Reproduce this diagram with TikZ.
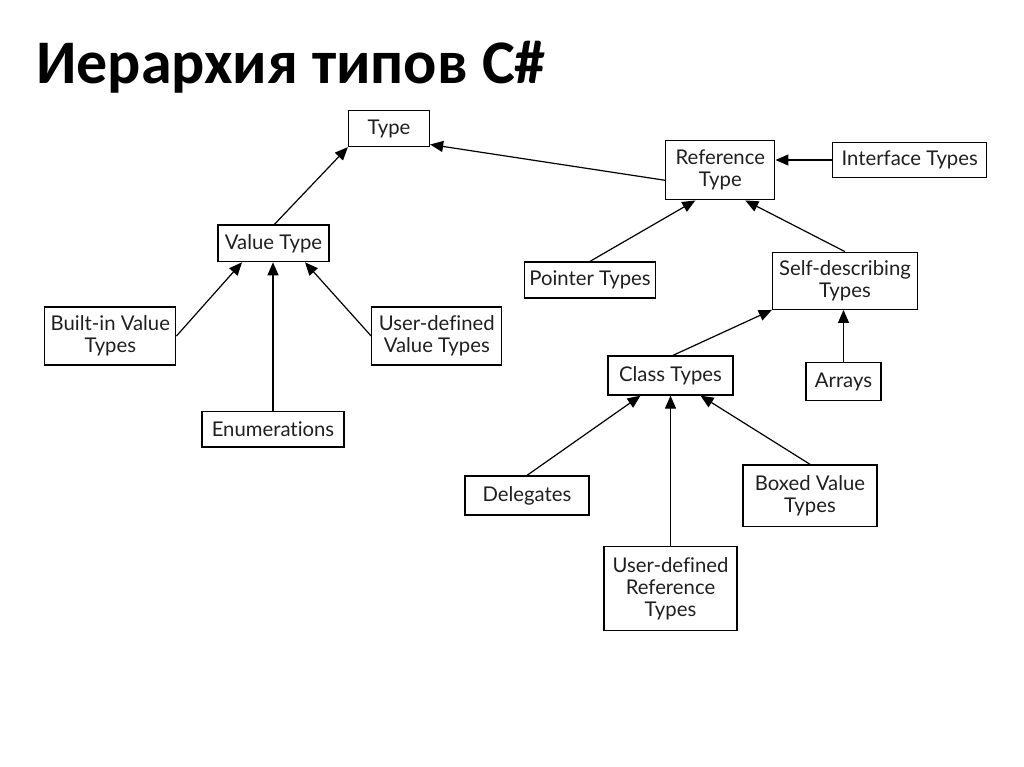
\documentclass[tikz,border=0pt]{standalone}
\usepackage{fontspec}
\setmainfont{Lato}[Ligatures=NoCommon]
\newfontfamily\titlefont{Carlito}
\usetikzlibrary{arrows.meta,calc}
\tikzset{
  box/.style={draw=black, line width=1.3pt, inner sep=0pt, align=center,
    font=\fontsize{20.3}{22}\selectfont, text=black!88},
  conn/.style={line width=1.2pt, -{Triangle[length=13pt,width=11pt]}},
}
\begin{document}
\begin{tikzpicture}[x=1pt,y=-1pt]
\useasboundingbox (0,0) rectangle (1024,767);
\node[anchor=base west, font=\titlefont\bfseries\fontsize{62}{68}\selectfont, inner sep=0pt] (title) at (36,83.5) {Иерархия типов C\#};

\node[box, minimum width=81pt, minimum height=36pt] (type) at (389,128.5) {Type};
\node[box, minimum width=109pt, minimum height=59pt] (ref) at (720.3,170.3) {Reference\\Type};
\node[box, minimum width=154pt, minimum height=35pt] (iface) at (909.7,160) {Interface Types};
\node[box, minimum width=111pt, minimum height=36.7pt] (vt) at (273.5,243.3) {Value Type};
\node[box, minimum width=131pt, minimum height=36pt] (ptr) at (590,280) {Pointer Types};
\node[box, minimum width=145pt, minimum height=57pt] (self) at (845,280.8) {Self-describing\\Types};
\node[box, minimum width=131pt, minimum height=58pt] (builtin) at (110.3,336) {Built-in Value\\Types};
\node[box, minimum width=130pt, minimum height=58pt] (udv) at (436.8,336) {User-defined\\Value Types};
\node[box, minimum width=142pt, minimum height=35.3pt] (enum) at (273,429.3) {Enumerations};
\node[box, minimum width=125pt, minimum height=39pt] (class) at (670.5,375.5) {Class Types};
\node[box, minimum width=75pt, minimum height=38pt] (arrays) at (843.5,381.7) {Arrays};
\node[box, minimum width=124pt, minimum height=39pt] (deleg) at (527,495.5) {Delegates};
\node[box, minimum width=134pt, minimum height=61.7pt] (boxed) at (810,495.8) {Boxed Value\\Types};
\node[box, minimum width=133pt, minimum height=84pt] (udr) at (670.5,588.7) {User-defined\\Reference\\Types};

\draw[conn] ($(vt.north)+(1,0)$) -- (type.south west);
\draw[conn] ($(ref.west)+(0,10)$) -- ($(type.east)+(0,16)$);
\draw[conn] (iface.west) -- (iface.west -| ref.east);
\draw[conn] (ptr.north) -- ($(ref.south)+(-25,0)$);
\draw[conn] (self.north) -- ($(ref.south)+(25,0)$);
\draw[conn] (builtin.east) -- ($(vt.south)+(-31.5,0)$);
\draw[conn] (enum.north) -- (enum.north |- vt.south);
\draw[conn] (udv.west) -- ($(vt.south)+(31.5,0)$);
\draw[conn] ($(class.north)+(2.5,0)$) -- (self.south west);
\draw[conn] (arrays.north) -- (arrays.north |- self.south);
\draw[conn] (deleg.north) -- ($(class.south)+(-30,0)$);
\draw[conn] (udr.north) -- (udr.north |- class.south);
\draw[conn] (boxed.north) -- ($(class.south)+(30,0)$);
\end{tikzpicture}
\end{document}
